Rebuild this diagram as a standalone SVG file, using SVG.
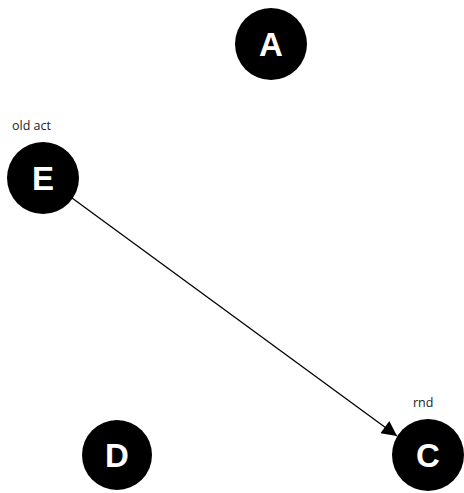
<svg xmlns="http://www.w3.org/2000/svg" width="464" height="493" viewBox="0 0 464 493">
<defs>
<style>
.n{fill:#000}
.t{fill:#fff;font-family:"Liberation Sans",Arial,sans-serif;font-weight:bold;font-size:33px;text-anchor:middle}
.l{fill:#222;font-family:"Open Sans","DejaVu Sans",sans-serif;font-size:12.5px}
.e{stroke:#000;stroke-width:1.3;fill:none}
</style>
<marker id="ah" viewBox="0 0 10 10" refX="10" refY="5" markerWidth="17" markerHeight="15" markerUnits="userSpaceOnUse" orient="auto">
<path d="M0,0 L10,5 L0,10 z" fill="#000"/>
</marker>
</defs>
<rect width="464" height="493" fill="#fff"/>
<g id="edges">
<line class="e" x1="72" y1="198" x2="397" y2="436" marker-end="url(#ah)"/>
</g>
<g id="A"><circle class="n" cx="271" cy="44" r="36"/><text class="t" x="271" y="56">A</text></g>
<g id="E"><circle class="n" cx="43" cy="178" r="36"/><text class="t" x="43" y="190">E</text><text class="l" x="12" y="130">old act</text></g>
<g id="D"><circle class="n" cx="117" cy="455" r="35"/><text class="t" x="117" y="467">D</text></g>
<g id="C"><circle class="n" cx="428" cy="455" r="36"/><text class="t" x="428" y="467">C</text><text class="l" x="413" y="407">rnd</text></g>
</svg>
